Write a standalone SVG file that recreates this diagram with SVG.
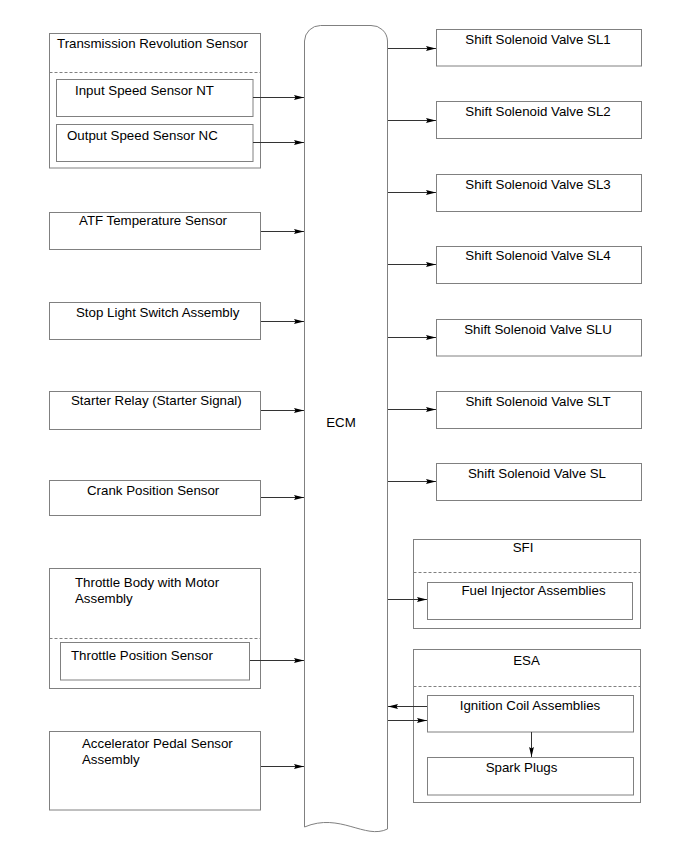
<svg xmlns="http://www.w3.org/2000/svg" width="690" height="855" viewBox="0 0 690 855">
<style>
text{font-family:"Liberation Sans",Arial,sans-serif;font-size:13.3px;fill:#000}
.b{fill:#fff;stroke:#808080;stroke-width:1}
.d{stroke:#808080;stroke-width:1;stroke-dasharray:3,2;fill:none}
.c{stroke:#333;stroke-width:1;fill:none;marker-end:url(#ah)}
.m{text-anchor:middle}
</style>
<defs>
<marker id="ah" markerUnits="userSpaceOnUse" markerWidth="10" markerHeight="6" refX="10" refY="3" orient="auto">
<path d="M0,0.6 L10,3 L0,5.4 L1.5,3 z" fill="#000"/>
</marker>
</defs>
<rect width="690" height="855" fill="#fff"/>

<g id="ecm">
<path class="b" d="M304.5,827 V41 A16,16 0 0 1 320.5,25.5 H371 A16,16 0 0 1 387.5,41 V829 C365,840 340,812 304.5,827 z"/>
<text x="341" y="427" class="m">ECM</text>
</g>

<g id="trs">
<rect class="b" x="49.5" y="33.5" width="211" height="134.5"/>
<line class="d" x1="49.5" y1="72.5" x2="260.5" y2="72.5"/>
<text x="57" y="48">Transmission Revolution Sensor</text>
</g>
<g id="nt">
<rect class="b" x="56.5" y="79.5" width="196.5" height="37"/>
<text x="75" y="95">Input Speed Sensor NT</text>
</g>
<g id="nc">
<rect class="b" x="56.5" y="124.5" width="196.5" height="37"/>
<text x="67" y="139.5">Output Speed Sensor NC</text>
</g>
<g id="atf">
<rect class="b" x="49.5" y="212.5" width="211" height="37"/>
<text x="79" y="225">ATF Temperature Sensor</text>
</g>
<g id="stop">
<rect class="b" x="49.5" y="302.5" width="211" height="37"/>
<text x="76" y="317">Stop Light Switch Assembly</text>
</g>
<g id="starter">
<rect class="b" x="49.5" y="391.5" width="211" height="38"/>
<text x="71" y="405">Starter Relay (Starter Signal)</text>
</g>
<g id="crank">
<rect class="b" x="49.5" y="480.5" width="211" height="35"/>
<text x="87" y="494.5">Crank Position Sensor</text>
</g>
<g id="throttle">
<rect class="b" x="49.5" y="568.5" width="211" height="120"/>
<line class="d" x1="49.5" y1="638.5" x2="260.5" y2="638.5"/>
<text x="75" y="587">Throttle Body with Motor</text>
<text x="75" y="603">Assembly</text>
</g>
<g id="tps">
<rect class="b" x="60.5" y="642.5" width="189" height="37.5"/>
<text x="71" y="660">Throttle Position Sensor</text>
</g>
<g id="accel">
<rect class="b" x="49.5" y="731.5" width="211" height="78.5"/>
<text x="82" y="748">Accelerator Pedal Sensor</text>
<text x="82" y="764">Assembly</text>
</g>

<g id="sl1"><rect class="b" x="436.5" y="29.5" width="205" height="36.5"/><text x="538" y="44" class="m">Shift Solenoid Valve SL1</text></g>
<g id="sl2"><rect class="b" x="436.5" y="101.5" width="205" height="37"/><text x="538" y="116" class="m">Shift Solenoid Valve SL2</text></g>
<g id="sl3"><rect class="b" x="436.5" y="174.5" width="205" height="37"/><text x="538" y="189" class="m">Shift Solenoid Valve SL3</text></g>
<g id="sl4"><rect class="b" x="436.5" y="246.5" width="205" height="37"/><text x="538" y="260" class="m">Shift Solenoid Valve SL4</text></g>
<g id="slu"><rect class="b" x="436.5" y="319.5" width="205" height="36.5"/><text x="538" y="333.5" class="m">Shift Solenoid Valve SLU</text></g>
<g id="slt"><rect class="b" x="436.5" y="391.5" width="205" height="37"/><text x="538" y="405.5" class="m">Shift Solenoid Valve SLT</text></g>
<g id="sl"><rect class="b" x="436.5" y="463.5" width="205" height="37"/><text x="537" y="478" class="m">Shift Solenoid Valve SL</text></g>

<g id="sfi">
<rect class="b" x="413.5" y="539.5" width="227" height="89"/>
<line class="d" x1="413.5" y1="572.5" x2="640.5" y2="572.5"/>
<text x="523" y="551.5" class="m">SFI</text>
</g>
<g id="injector">
<rect class="b" x="427.5" y="582.5" width="205" height="37"/>
<text x="533.5" y="594.5" class="m">Fuel Injector Assemblies</text>
</g>
<g id="esa">
<rect class="b" x="413.5" y="649.5" width="227" height="153"/>
<line class="d" x1="413.5" y1="686.5" x2="640.5" y2="686.5"/>
<text x="526.5" y="665" class="m">ESA</text>
</g>
<g id="coil">
<rect class="b" x="427.5" y="695.5" width="206" height="36.5"/>
<text x="530" y="709.5" class="m">Ignition Coil Assemblies</text>
</g>
<g id="spark">
<rect class="b" x="427.5" y="757.5" width="206" height="37.5"/>
<text x="521.5" y="771.5" class="m">Spark Plugs</text>
</g>

<g id="connectors">
<line class="c" x1="253" y1="97.5" x2="304" y2="97.5"/>
<line class="c" x1="253" y1="142.5" x2="304" y2="142.5"/>
<line class="c" x1="261" y1="231.5" x2="304" y2="231.5"/>
<line class="c" x1="261" y1="321.5" x2="304" y2="321.5"/>
<line class="c" x1="261" y1="410.5" x2="304" y2="410.5"/>
<line class="c" x1="261" y1="497.5" x2="304" y2="497.5"/>
<line class="c" x1="250" y1="660.5" x2="304" y2="660.5"/>
<line class="c" x1="261" y1="766.5" x2="304" y2="766.5"/>
<line class="c" x1="388" y1="48.5" x2="436" y2="48.5"/>
<line class="c" x1="388" y1="120.5" x2="436" y2="120.5"/>
<line class="c" x1="388" y1="192.5" x2="436" y2="192.5"/>
<line class="c" x1="388" y1="264.5" x2="436" y2="264.5"/>
<line class="c" x1="388" y1="337.5" x2="436" y2="337.5"/>
<line class="c" x1="388" y1="409.5" x2="436" y2="409.5"/>
<line class="c" x1="388" y1="481.5" x2="436" y2="481.5"/>
<line class="c" x1="388" y1="599.5" x2="427" y2="599.5"/>
<line class="c" x1="427" y1="706.5" x2="388" y2="706.5"/>
<line class="c" x1="388" y1="720.5" x2="427" y2="720.5"/>
<line class="c" x1="531.5" y1="732" x2="531.5" y2="757"/>
</g>
</svg>
